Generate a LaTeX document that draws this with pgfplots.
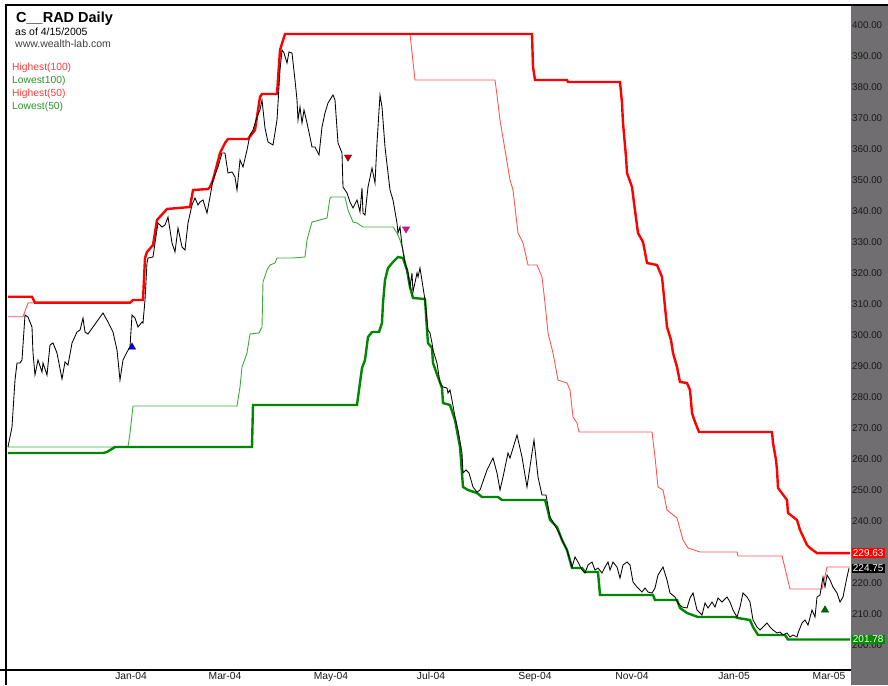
\documentclass[border=0pt]{standalone}
\usepackage{fontspec}
\setmainfont{Liberation Sans}
\usepackage{pgfplots}
\pgfplotsset{compat=1.18}
\definecolor{bandgray}{RGB}{112,110,112}
\definecolor{hred}{RGB}{255,0,0}
\definecolor{hredthin}{RGB}{255,85,85}
\definecolor{lgreen}{RGB}{0,135,0}
\definecolor{lgreenthin}{RGB}{60,170,60}
\definecolor{legred}{RGB}{255,60,60}
\definecolor{leggreen}{RGB}{40,150,40}
\definecolor{boxgreen}{RGB}{0,140,0}
\begin{document}
\begin{tikzpicture}[x=1pt,y=1pt]
\path[use as bounding box] (0,0) rectangle (888,685);
\fill[white] (0,0) rectangle (888,685);
\fill[bandgray] (851,0) rectangle (888,680);
\begin{axis}[
  at={(5pt,15pt)}, anchor=south west,
  scale only axis, width=846pt, height=665pt,
  xmin=5, xmax=851, ymin=191.94, ymax=406.45,
  axis line style={draw=none},
  clip=false,
  major tick length=0pt,
  ytick={200,210,...,400},
  yticklabel pos=right,
  ytick pos=right,
  xtick pos=bottom,
  /pgf/number format/assume math mode=true,
  yticklabel={\pgfmathprintnumber[fixed,fixed zerofill,precision=2]{\tick}},
  yticklabel style={anchor=west, inner sep=1pt, xshift=0pt, text=black!90, font=\fontsize{9.8}{10}\selectfont},
  xtick={131,225,331,431,535,632,734,829},
  xticklabels={Jan-04,Mar-04,May-04,Jul-04,Sep-04,Nov-04,Jan-05,Mar-05},
  xticklabel style={anchor=north, inner sep=2pt, text=black!90, font=\fontsize{10.3}{10}\selectfont},
]
% Lowest(50) thin green
\addplot[lgreenthin, line width=0.9pt] coordinates {
(8,263.87)(128,263.87)(130,268.39)(133,277.10)(237,277.10)(240,283.23)(242,289.68)(247,294.19)(250,300.32)(259,300.65)(262,302.58)(263,317.10)(267,320.97)(270,322.58)(275,323.23)(277,324.84)(293,324.84)(305,325.16)(307,330.65)(312,336.45)(320,337.10)(327,337.74)(330,344.19)(332,344.52)(345,344.52)(348,340.32)(353,336.45)(357,336.13)(363,334.84)(393,334.84)(397,332.90)(400,330.65)(403,327.42)(407,320.97)(410,315.48)(413,311.94)(425,311.61)(427,301.61)(428,297.42)(432,295.81)(433,290.97)(438,286.45)(442,282.90)(443,278.06)(450,277.42)(455,272.58)(460,263.87)(463,250.97)(468,250.00)(477,249.03)(482,247.74)(498,247.74)(502,246.77)(545,246.77)(547,244.52)(550,240.32)(557,238.06)(562,233.87)(567,230.65)(572,224.84)(582,224.84)(585,223.55)(598,223.55)(600,216.13)(653,216.13)(655,214.52)(677,214.52)(680,211.94)(687,210.32)(698,209.03)(735,209.03)(738,208.71)(750,208.06)(753,205.81)(758,203.23)(785,203.23)(788,201.78)(850,201.78)
};
% Lowest(100) thick green
\addplot[lgreen, line width=2.4pt] coordinates {
(8,261.94)(103,261.94)(107,262.26)(115,263.87)(252,263.87)(253,277.42)(357,277.42)(359,282.26)(362,289.35)(365,291.94)(368,299.35)(372,300.97)(379,300.97)(382,303.87)(383,310.32)(385,317.74)(388,321.61)(393,323.55)(398,325.16)(403,324.84)(407,320.97)(410,315.48)(413,311.94)(425,311.61)(427,301.61)(428,297.42)(432,295.81)(433,290.97)(438,286.45)(442,282.90)(443,278.06)(450,277.42)(455,272.58)(460,263.87)(463,250.97)(468,250.00)(477,249.03)(482,247.74)(498,247.74)(502,246.77)(545,246.77)(547,244.52)(550,240.32)(557,238.06)(562,233.87)(567,230.65)(572,224.84)(582,224.84)(585,223.55)(598,223.55)(600,216.13)(653,216.13)(655,214.52)(677,214.52)(680,211.94)(687,210.32)(698,209.03)(735,209.03)(738,208.71)(750,208.06)(753,205.81)(758,203.23)(785,203.23)(788,201.78)(850,201.78)
};
% Highest(50) thin red
\addplot[hredthin, line width=0.9pt] coordinates {
(8,305.90)(23,305.90)(28,310.32)(35,310.42)(130,310.42)(133,311.29)(143,311.29)(145,324.84)(147,326.77)(153,329.03)(157,337.10)(167,340.65)(190,341.29)(193,346.77)(208,347.10)(210,347.74)(213,350.00)(220,358.71)(225,361.94)(228,363.23)(248,363.23)(255,366.13)(260,376.77)(262,377.74)(277,377.74)(280,391.94)(285,397.10)(410,397.10)(415,382.26)(495,382.26)(497,377.42)(500,369.35)(505,359.68)(510,350.00)(513,346.77)(518,332.90)(523,329.68)(528,322.58)(537,322.58)(542,318.71)(545,310.32)(548,300.65)(553,294.19)(558,285.48)(567,284.52)(570,282.26)(573,273.55)(577,271.61)(579,268.71)(652,268.71)(655,260.65)(658,250.97)(663,250.00)(667,243.55)(677,240.97)(683,233.87)(688,231.29)(700,230.00)(737,230.00)(738,228.71)(782,228.71)(783,227.42)(790,218.06)(822,218.06)(827,225.16)(850,225.16)
};
% Highest(100) thick red
\addplot[hred, line width=2.4pt] coordinates {
(8,312.35)(32,312.35)(35,310.42)(130,310.42)(133,311.29)(143,311.29)(145,324.84)(147,326.77)(153,329.03)(157,337.10)(167,340.65)(190,341.29)(193,346.77)(208,347.10)(210,347.74)(213,350.00)(220,358.71)(225,361.94)(228,363.23)(248,363.23)(255,366.13)(260,376.77)(262,377.74)(277,377.74)(280,391.94)(285,397.10)(532,397.10)(533,386.45)(535,382.26)(567,382.26)(568,381.61)(620,381.61)(622,374.84)(623,368.39)(626,357.42)(627,352.26)(632,347.74)(634,342.58)(638,332.90)(643,330.00)(647,323.23)(657,322.58)(662,318.71)(664,312.26)(667,302.58)(671,298.39)(673,294.19)(677,289.68)(680,284.84)(687,284.52)(690,282.26)(692,274.84)(695,271.94)(699,268.71)(772,268.71)(773,265.16)(776,259.68)(777,256.45)(778,250.65)(787,246.77)(788,242.58)(797,240.32)(800,237.10)(807,232.26)(810,231.29)(817,229.63)(850,229.63)
};
% Close price
\addplot[black, line width=0.85pt] coordinates {
(8,263.87)(12,270.32)(15,285.48)(17,290.97)(20,290.97)(22,291.94)(25,306.45)(28,305.81)(32,302.58)(33,294.19)(35,287.10)(38,291.94)(42,288.06)(43,290.97)(47,287.10)(50,296.77)(53,297.42)(57,294.19)(62,285.81)(65,291.29)(68,290.32)(72,297.42)(77,300.97)(80,301.61)(83,305.48)(85,300.97)(88,300.32)(93,302.58)(98,304.84)(103,307.10)(108,304.19)(113,300.97)(117,295.16)(120,285.48)(123,291.94)(127,294.52)(130,296.13)(132,306.45)(135,305.48)(138,302.58)(142,304.19)(143,303.87)(145,311.29)(147,323.23)(148,324.84)(153,325.16)(155,329.68)(158,336.13)(162,334.84)(165,335.48)(168,338.06)(172,329.68)(175,326.77)(178,334.52)(182,328.39)(185,327.42)(188,336.13)(192,341.94)(195,344.19)(198,341.94)(200,342.90)(203,343.55)(207,339.35)(210,344.52)(213,350.00)(218,354.19)(222,358.71)(225,358.71)(228,352.26)(232,352.58)(235,350.97)(237,346.77)(240,356.45)(243,354.19)(247,359.68)(250,364.52)(253,366.13)(257,370.32)(260,372.58)(262,375.81)(265,366.77)(268,362.26)(273,361.29)(277,369.35)(280,385.48)(282,391.94)(284,390.97)(287,387.74)(289,391.29)(292,390.97)(295,382.26)(297,375.81)(298,369.35)(300,373.55)(302,368.39)(304,372.58)(307,368.39)(310,363.87)(312,360.65)(315,360.65)(319,358.06)(322,367.10)(325,371.61)(328,374.84)(333,377.42)(335,375.81)(338,361.94)(342,358.71)(343,347.74)(347,345.81)(350,342.90)(353,340.97)(357,343.55)(360,339.68)(362,347.42)(363,339.35)(365,338.71)(368,347.74)(372,353.87)(375,349.03)(377,361.94)(380,377.42)(382,373.55)(385,360.65)(390,346.77)(393,343.55)(397,336.13)(398,332.90)(400,334.84)(402,329.03)(403,326.77)(405,323.23)(408,320.00)(410,315.48)(412,320.00)(413,313.87)(417,320.00)(418,318.71)(420,321.61)(425,311.29)(428,301.61)(430,300.65)(432,297.42)(433,295.16)(437,290.97)(440,284.52)(443,283.23)(447,282.90)(448,281.29)(450,282.26)(452,279.03)(455,273.55)(458,269.35)(462,261.94)(463,255.48)(466,256.45)(469,255.48)(473,250.97)(477,249.35)(480,250.00)(487,256.45)(493,260.32)(497,255.48)(500,250.00)(503,254.19)(508,261.94)(510,260.32)(517,267.74)(522,260.65)(527,250.97)(532,261.94)(534,266.13)(538,254.19)(542,248.39)(546,248.39)(550,241.29)(553,239.68)(560,235.48)(563,233.23)(567,230.65)(572,225.16)(575,228.39)(578,226.77)(582,224.19)(585,223.23)(588,225.81)(592,226.77)(595,224.19)(598,224.84)(602,223.23)(605,225.16)(608,226.77)(610,224.19)(613,226.77)(617,225.16)(620,221.61)(623,225.81)(627,226.77)(630,225.81)(633,220.32)(637,218.71)(642,217.10)(645,218.39)(648,217.10)(652,216.77)(655,218.39)(658,222.58)(663,225.16)(667,220.97)(670,216.77)(675,215.48)(678,213.55)(682,212.26)(687,211.94)(690,215.16)(693,216.77)(697,211.29)(702,209.68)(705,213.55)(708,211.94)(712,213.87)(715,212.26)(718,215.16)(722,213.87)(727,215.48)(730,213.87)(733,211.29)(737,209.03)(740,212.26)(743,216.77)(747,215.48)(750,213.87)(753,208.06)(757,205.81)(760,204.84)(763,205.81)(767,207.10)(770,205.81)(773,204.84)(777,203.87)(780,204.19)(783,203.23)(787,203.87)(790,202.58)(793,203.23)(797,202.58)(798,203.87)(802,207.10)(805,208.06)(808,206.45)(812,211.29)(815,209.03)(817,215.48)(820,216.13)(823,221.94)(825,218.71)(827,222.58)(830,220.97)(833,218.71)(837,216.77)(840,213.87)(843,215.48)(847,221.94)(849,224.75)
};
% signal markers
\addplot[only marks, mark=triangle*, mark size=4.2pt, mark options={fill=blue!85!black, draw=blue!40!black}] coordinates {(132,296.1)};
\addplot[only marks, mark=triangle*, mark size=4.2pt, mark options={rotate=180, fill=red!80!black, draw=red!40!black}] coordinates {(348,357.4)};
\addplot[only marks, mark=triangle*, mark size=4.2pt, mark options={rotate=180, fill=magenta, draw=magenta!50!black}] coordinates {(406,334.2)};
\addplot[only marks, mark=triangle*, mark size=4.2pt, mark options={fill=green!40!black, draw=green!25!black}] coordinates {(825,211.3)};
% last-value boxes
\node[fill=hred, text=white, inner sep=1.2pt, anchor=west, font=\fontsize{10}{10}\selectfont] at (axis cs:851.5,229.63) {229.63};
\node[fill=black, text=white, inner sep=1.2pt, anchor=west, font=\fontsize{10}{10}\selectfont] at (axis cs:851.5,224.75) {224.75};
\node[fill=boxgreen, text=white, inner sep=1.2pt, anchor=west, font=\fontsize{10}{10}\selectfont] at (axis cs:851.5,201.78) {201.78};
\end{axis}
% frame lines
\draw[black, line width=1.3pt] (5,680) -- (888,680);
\draw[black, line width=1.3pt] (6,0) -- (6,680);
\draw[black, line width=1.1pt] (0,15) -- (851,15);
% title and legend
\node[anchor=base west, inner sep=0pt, font=\bfseries\fontsize{14.5}{15}\selectfont] at (16,662) {C\_\_RAD Daily};
\node[anchor=base west, inner sep=0pt, font=\fontsize{10.5}{11}\selectfont] at (15,649) {as of 4/15/2005};
\node[anchor=base west, inner sep=0pt, font=\fontsize{10.5}{11}\selectfont, text=black!75] at (15,637) {www.wealth-lab.com};
\node[anchor=base west, inner sep=0pt, font=\fontsize{10.3}{11}\selectfont, text=legred] at (12,614) {Highest(100)};
\node[anchor=base west, inner sep=0pt, font=\fontsize{10.3}{11}\selectfont, text=leggreen] at (12,601) {Lowest100)};
\node[anchor=base west, inner sep=0pt, font=\fontsize{10.3}{11}\selectfont, text=legred] at (12,588) {Highest(50)};
\node[anchor=base west, inner sep=0pt, font=\fontsize{10.3}{11}\selectfont, text=leggreen] at (12,575) {Lowest(50)};
\end{tikzpicture}
\end{document}
